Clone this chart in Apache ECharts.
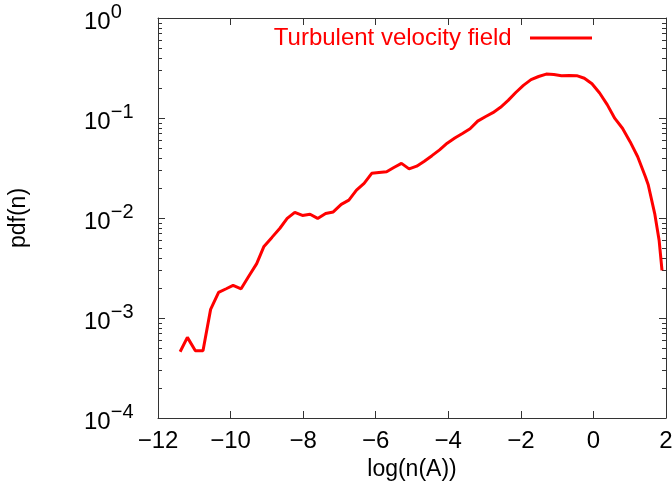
<!DOCTYPE html>
<html>
<head>
<meta charset="utf-8">
<script src="https://cdn.jsdelivr.net/npm/echarts@6/dist/echarts.min.js"></script>
<style>html,body{margin:0;padding:0;background:#fff}#c{width:672px;height:492px}</style>
</head>
<body>
<div id="c"></div>
<script>
var logN = [-11.39,-11.19,-10.97,-10.76,-10.55,-10.33,-10.12,-9.93,-9.71,-9.49,-9.28,-9.08,-8.86,-8.64,-8.44,-8.23,-8.02,-7.81,-7.60,-7.38,-7.17,-6.95,-6.74,-6.53,-6.32,-6.11,-5.91,-5.70,-5.50,-5.29,-5.08,-4.87,-4.66,-4.45,-4.24,-4.03,-3.82,-3.61,-3.40,-3.19,-2.98,-2.77,-2.56,-2.35,-2.14,-1.93,-1.72,-1.51,-1.30,-1.09,-0.88,-0.67,-0.46,-0.25,-0.04,0.17,0.38,0.59,0.80,1.01,1.22,1.43,1.51,1.69,1.81,1.89];
var pdf = [4.6e-4,6.4e-4,4.7e-4,4.7e-4,1.22e-3,1.8e-3,1.96e-3,2.12e-3,1.96e-3,2.65e-3,3.5e-3,5.2e-3,6.4e-3,7.9e-3,9.9e-3,1.14e-2,1.06e-2,1.09e-2,9.9e-3,1.11e-2,1.15e-2,1.37e-2,1.51e-2,1.9e-2,2.22e-2,2.8e-2,2.85e-2,2.9e-2,3.2e-2,3.52e-2,3.1e-2,3.3e-2,3.7e-2,4.2e-2,4.8e-2,5.6e-2,6.3e-2,7.0e-2,7.8e-2,9.3e-2,1.03e-1,1.13e-1,1.28e-1,1.5e-1,1.8e-1,2.12e-1,2.42e-1,2.6e-1,2.75e-1,2.72e-1,2.65e-1,2.66e-1,2.65e-1,2.5e-1,2.2e-1,1.78e-1,1.36e-1,9.9e-2,7.9e-2,5.8e-2,4.1e-2,2.6e-2,2.15e-2,1.1e-2,6.0e-3,3.0e-3];
var seriesName = 'Turbulent velocity field';
var xTicks = [-12,-10,-8,-6,-4,-2,0,2];
var yDecades = [1e-4,1e-3,1e-2,1e-1,1];
var minorTickValues = [];
for (var d = -4; d < 0; d++) { for (var m = 2; m <= 9; m++) { minorTickValues.push(m * Math.pow(10, d)); } }

var FONT = '"Liberation Sans", Arial, sans-serif';
var AXC = '#333';
var lineData = logN.map(function (x, i) { return [x, pdf[i]]; });

var chart = echarts.init(document.getElementById('c'));
function fmtX(v) { return String(v).replace('-', '\u2212'); }
function fmtY(v) {
  var e = Math.round(Math.log10(v));
  return '{b|10}{s|' + String(e).replace('-', '\u2212') + '}';
}
var yLabel = {
  fontFamily: FONT, color: '#000', margin: 74, align: 'left', formatter: fmtY,
  rich: {
    b: { fontSize: 24, fontFamily: FONT, color: '#000', verticalAlign: 'bottom', lineHeight: 32 },
    s: { fontSize: 20, fontFamily: FONT, color: '#000', verticalAlign: 'top', lineHeight: 32 }
  }
};
chart.setOption({
  animation: false,
  grid: { left: 158, right: 6, top: 18, bottom: 74, outerBoundsMode: 'none', containLabel: false },
  legend: {
    data: [{ name: seriesName, icon: 'rect' }],
    align: 'right', right: 75, top: 21,
    itemWidth: 62, itemHeight: 3,
    formatter: function (n) { return n + '  '; },
    textStyle: { color: '#ff0000', fontSize: 24, fontFamily: FONT }
  },
  xAxis: [{
    type: 'value', min: -12, max: 2, interval: 2,
    name: 'log(n(A))', nameLocation: 'middle', nameGap: 40,
    nameTextStyle: { fontSize: 23, fontFamily: FONT, color: '#000' },
    axisLine: { show: true, onZero: false, lineStyle: { color: AXC, width: 1 } },
    axisTick: { show: true, inside: true, length: 7, lineStyle: { color: AXC } },
    axisLabel: { fontSize: 24, fontFamily: FONT, color: '#000', margin: 11, formatter: fmtX },
    splitLine: { show: false }
  }, {
    type: 'value', min: -12, max: 2, interval: 2, position: 'top',
    axisLine: { show: true, onZero: false, lineStyle: { color: AXC, width: 1 } },
    axisTick: { show: true, inside: true, length: 7, lineStyle: { color: AXC } },
    axisLabel: { show: false }, splitLine: { show: false }
  }],
  yAxis: [{
    type: 'log', logBase: 10, min: 1e-4, max: 1,
    name: 'pdf(n)', nameLocation: 'middle', nameGap: 128, nameRotate: 90,
    nameTextStyle: { fontSize: 23, fontFamily: FONT, color: '#000' },
    axisLine: { show: true, onZero: false, lineStyle: { color: AXC, width: 1 } },
    axisTick: { show: true, inside: true, length: 7, lineStyle: { color: AXC } },
    axisLabel: yLabel,
    splitLine: { show: false }
  }, {
    type: 'log', logBase: 10, min: 1e-4, max: 1, position: 'right',
    axisLine: { show: true, onZero: false, lineStyle: { color: AXC, width: 1 } },
    axisTick: { show: true, inside: true, length: 7, lineStyle: { color: AXC } },
    axisLabel: { show: false }, splitLine: { show: false }
  }],
  series: [{
    name: seriesName, type: 'line', data: lineData, xAxisIndex: 0, yAxisIndex: 0,
    showSymbol: false, symbol: 'none', smooth: false,
    lineStyle: { color: '#ff0000', width: 3 }, itemStyle: { color: '#ff0000' },
    clip: false, z: 3
  }, {
    name: 'minorTicks', type: 'custom', xAxisIndex: 0, yAxisIndex: 0, silent: true,
    data: minorTickValues.map(function (v) { return [-12, v]; }),
    clip: false, z: 1,
    renderItem: function (params, api) {
      var v = api.value(1);
      var l = api.coord([-12, v]);
      var r = api.coord([2, v]);
      var st = { stroke: AXC, lineWidth: 1 };
      return { type: 'group', children: [
        { type: 'line', shape: { x1: l[0], y1: Math.round(l[1]) + 0.5, x2: l[0] + 4, y2: Math.round(l[1]) + 0.5 }, style: st },
        { type: 'line', shape: { x1: r[0] - 4, y1: Math.round(r[1]) + 0.5, x2: r[0], y2: Math.round(r[1]) + 0.5 }, style: st }
      ]};
    }
  }]
});
</script>
</body>
</html>
